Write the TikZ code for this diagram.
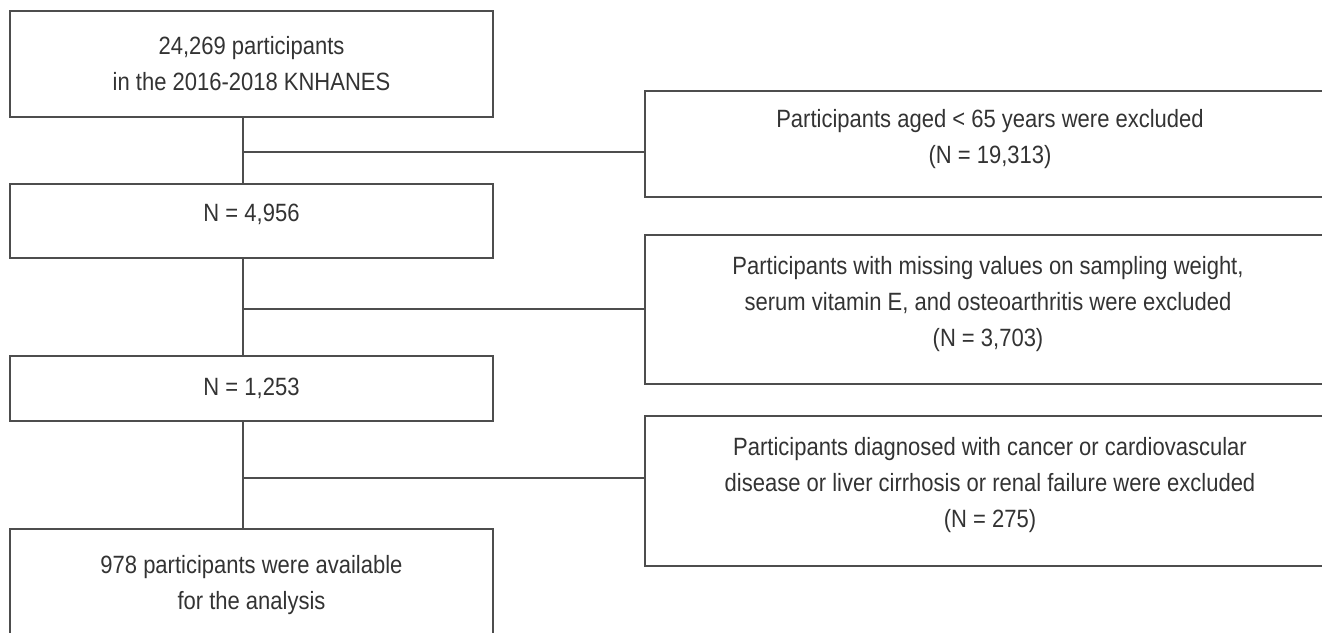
\documentclass[tikz,border=0pt]{standalone}
\usepackage{fontspec}
\setmainfont{Liberation Sans}[FakeStretch=0.88]
\usetikzlibrary{positioning}
\definecolor{linegray}{HTML}{4D4D4D}
\definecolor{textgray}{HTML}{333333}

\begin{document}
\begin{tikzpicture}[x=1pt,y=-1pt,
    txt/.style={text=textgray, align=center, inner sep=0pt, font=\fontsize{25}{36}\selectfont},
    box/.style={txt, draw=linegray, line width=1.4pt, minimum width=483pt},
    link/.style={draw=linegray, line width=1.4pt}]
    \useasboundingbox (0,0) rectangle (1322,632);

    % Left column
    \node[box, minimum height=106pt] (start) at (251.5,64) {24,269 participants\\in the 2016-2018 KNHANES};
    \node[box, minimum height=74pt, text height=18pt, text depth=17pt] (n1) at (251.5,221) {N = 4,956};
    \node[box, minimum height=65pt] (n2) at (251.5,388.5) {N = 1,253};
    \node[txt] (final) at (251.5,585) {978 participants were available\\for the analysis};
    \draw[link] (10,640) |- (493,529) -- (493,640);
    \coordinate (finaltop) at (243,529);

    % Exclusions (open on the right)
    \node[txt] (ex1) at (990,139) {Participants aged < 65 years were excluded\\(N = 19,313)};
    \node[txt] (ex2) at (988,304) {Participants with missing values on sampling weight,\\serum vitamin E, and osteoarthritis were excluded\\(N = 3,703)};
    \node[txt] (ex3) at (990,485) {Participants diagnosed with cancer or cardiovascular\\disease or liver cirrhosis or renal failure were excluded\\(N = 275)};
    \draw[link] (1330,91) -| (645,197) -- (1330,197);
    \draw[link] (1330,235) -| (645,384) -- (1330,384);
    \draw[link] (1330,416) -| (645,566) -- (1330,566);

    % Junctions
    \coordinate (j1) at (243,152);
    \coordinate (j2) at (243,309);
    \coordinate (j3) at (243,478);
    \coordinate (f1) at (645,152);
    \coordinate (f2) at (645,309);
    \coordinate (f3) at (645,478);

    \draw[link] (start.south -| j1) -- (n1.north -| j1);
    \draw[link] (n1.south -| j2) -- (n2.north -| j2);
    \draw[link] (n2.south -| j3) -- (finaltop);
    \draw[link] (j1) -- (f1);
    \draw[link] (j2) -- (f2);
    \draw[link] (j3) -- (f3);
\end{tikzpicture}
\end{document}
